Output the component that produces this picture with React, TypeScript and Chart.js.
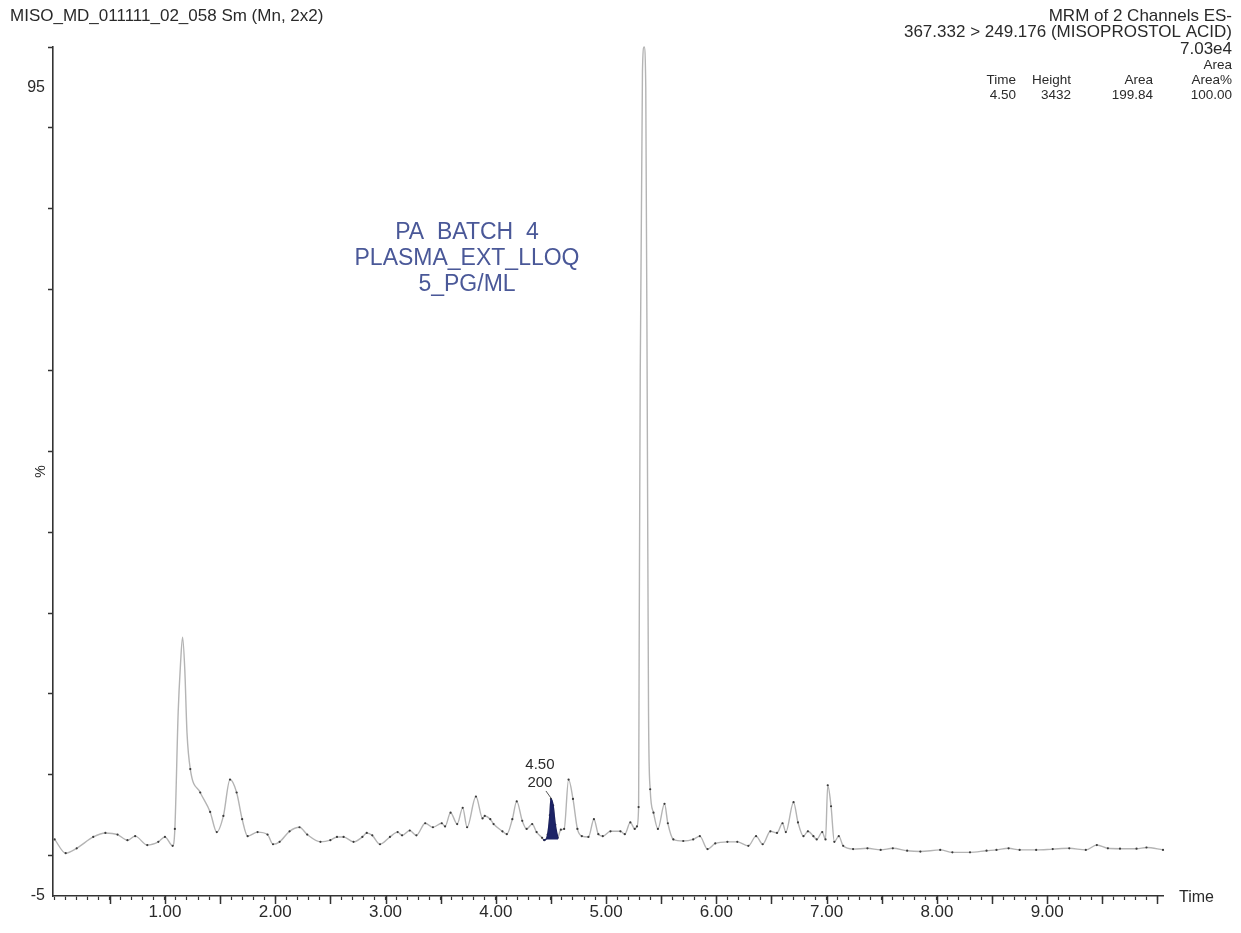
import React, { useEffect, useRef } from 'react';
import { Chart, registerables } from 'chart.js';

Chart.register(...registerables);

// ---- Data ----
const TIMES = [
  0.00, 0.10, 0.20, 0.35, 0.46, 0.57, 0.66, 0.73, 0.84, 0.94,
  1.00, 1.07, 1.09, 1.12, 1.14, 1.16, 1.18, 1.20, 1.23, 1.32,
  1.41, 1.47, 1.53, 1.59, 1.65, 1.70, 1.75, 1.84, 1.93, 1.98,
  2.04, 2.13, 2.22, 2.29, 2.41, 2.50, 2.56, 2.62, 2.71, 2.79,
  2.83, 2.88, 2.95, 3.04, 3.11, 3.15, 3.22, 3.28, 3.36, 3.43,
  3.51, 3.54, 3.59, 3.65, 3.70, 3.74, 3.82, 3.88, 3.90, 3.95,
  3.98, 4.06, 4.10, 4.15, 4.19, 4.24, 4.28, 4.33, 4.37, 4.42,
  4.44, 4.47, 4.49, 4.50, 4.52, 4.54, 4.56,
  4.59, 4.62, 4.66, 4.70, 4.74,
  4.78, 4.84, 4.89, 4.93, 4.97, 5.04, 5.13, 5.17, 5.22, 5.26,
  5.28, 5.295, 5.30, 5.31, 5.33, 5.345, 5.36, 5.375, 5.385, 5.40,
  5.43, 5.47, 5.53, 5.56, 5.61, 5.70, 5.79, 5.85, 5.92, 5.99,
  6.10, 6.19, 6.29, 6.36, 6.42, 6.49, 6.55, 6.60, 6.63, 6.70,
  6.74, 6.79, 6.83, 6.88, 6.91, 6.96, 6.99, 7.01, 7.04, 7.07,
  7.11, 7.15, 7.24, 7.37, 7.49, 7.60, 7.73, 7.85, 8.03, 8.14,
  8.30, 8.45, 8.54, 8.65, 8.75, 8.90, 9.05, 9.20, 9.35, 9.45,
  9.55, 9.66, 9.81, 9.90, 10.05,
];
const INTENSITY = [
  2.0, 0.3, 0.9, 2.3, 2.8, 2.6, 1.9, 2.4, 1.3, 1.7,
  2.3, 1.2, 3.3, 17.7, 23.4, 27.0, 23.0, 15.2, 10.7, 7.8,
  5.4, 2.9, 4.9, 9.4, 7.8, 4.5, 2.4, 2.9, 2.6, 1.4,
  1.7, 3.0, 3.5, 2.6, 1.7, 1.9, 2.3, 2.3, 1.7, 2.3,
  2.8, 2.5, 1.4, 2.3, 2.9, 2.5, 3.1, 2.5, 4.0, 3.5,
  4.0, 3.6, 5.3, 3.9, 5.9, 3.5, 7.3, 4.6, 4.9, 4.5,
  3.9, 3.0, 2.65, 4.5, 6.7, 4.3, 3.3, 3.9, 2.9, 2.2,
  1.9, 2.6, 5.0, 7.0, 6.2, 3.8, 2.2,
  3.2, 3.3, 9.4, 7.0, 3.3,
  2.4, 2.3, 4.5, 2.65, 2.4, 3.0, 3.0, 2.65, 4.1, 3.3,
  3.6, 6.0, 25.0, 60.0, 97.0, 100.0, 95.0, 50.0, 17.7, 8.2,
  5.3, 3.3, 6.4, 4.0, 2.0, 1.8, 2.0, 2.4, 0.8, 1.5,
  1.7, 1.7, 1.2, 2.4, 1.4, 3.0, 2.8, 4.0, 2.9, 6.6,
  4.1, 2.4, 3.0, 2.4, 2.0, 2.9, 2.0, 8.7, 6.1, 1.7,
  2.4, 1.2, 0.8, 0.9, 0.7, 0.9, 0.6, 0.5, 0.7, 0.4,
  0.4, 0.6, 0.7, 0.9, 0.7, 0.7, 0.8, 0.9, 0.7, 1.3,
  0.9, 0.85, 0.85, 1.0, 0.7,
];
const PEAK_TIMES = [4.43, 4.44, 4.47, 4.49, 4.50, 4.52, 4.54, 4.565];
const PEAK_VALUES = [2.0, 1.9, 2.6, 5.0, 7.0, 6.2, 3.8, 2.1];
const PEAK_BASE = 2.0;
const PEAK_LABEL_TIME = '4.50';
const PEAK_LABEL_AREA = '200';

// ---- Axes ----
const X_MIN = -0.015;
const X_MAX = 10.05;
const X_MINOR_STEP = 0.1;
const X_MAJOR_TICKS = [0.5, 1, 1.5, 2, 2.5, 3, 3.5, 4, 4.5, 5, 5.5, 6, 6.5, 7, 7.5, 8, 8.5, 9, 9.5, 10];
const X_LABELED = [1, 2, 3, 4, 5, 6, 7, 8, 9];
const X_LABELS = ['1.00', '2.00', '3.00', '4.00', '5.00', '6.00', '7.00', '8.00', '9.00'];
const Y_MIN = -5;
const Y_MAX = 100;
const Y_TICK_MARKS = [0, 10, 20, 30, 40, 50, 60, 70, 80, 90, 100];
const Y_LABELED = [95, -5];
const Y_LABELS = ['95', '-5'];

// ---- Texts ----
const TITLE_LEFT = 'MISO_MD_011111_02_058 Sm (Mn, 2x2)';
const HEADER_RIGHT = ['MRM of 2 Channels ES-', '367.332 > 249.176 (MISOPROSTOL ACID)', '7.03e4'];
const TABLE_TOP = 'Area';
const TABLE_HEAD = ['Time', 'Height', 'Area', 'Area%'];
const TABLE_ROW = ['4.50', '3432', '199.84', '100.00'];
const SAMPLE_TEXT = ['PA  BATCH  4', 'PLASMA_EXT_LLOQ', '5_PG/ML'];
const Y_TITLE = '%';
const X_TITLE = 'Time';

const FONT = '"Liberation Sans", Arial, Helvetica, sans-serif';
const TEXT_COLOR = '#2a2a2a';
const AXIS_COLOR = '#333333';

export default function App() {
  const ref = useRef<HTMLCanvasElement | null>(null);

  useEffect(() => {
    document.body.style.margin = '0';
    document.body.style.overflow = 'hidden';
    const canvas = ref.current;
    if (!canvas) return;

    const overlay = {
      id: 'overlay',
      afterDraw(chart: any) {
        const { ctx, scales } = chart;
        const x = scales.x;
        const y = scales.y;
        const area = chart.chartArea;
        ctx.save();
        // long x ticks at every 0.5
        ctx.strokeStyle = AXIS_COLOR;
        ctx.lineWidth = 1.5;
        for (const v of X_MAJOR_TICKS) {
          const px = Math.round(x.getPixelForValue(v)) + 0.5;
          ctx.beginPath();
          ctx.moveTo(px, area.bottom);
          ctx.lineTo(px, area.bottom + 8);
          ctx.stroke();
        }

        ctx.fillStyle = TEXT_COLOR;
        ctx.textBaseline = 'middle';
        // left title
        ctx.font = `17px ${FONT}`;
        ctx.textAlign = 'left';
        ctx.fillText(TITLE_LEFT, 10, 16);
        // right header
        ctx.textAlign = 'right';
        const rx = 1232;
        HEADER_RIGHT.forEach((t, i) => ctx.fillText(t, rx, 16 + i * 16.5));
        ctx.font = `13.5px ${FONT}`;
        ctx.fillText(TABLE_TOP, rx, 65);
        const colRight = [1016, 1071, 1153, 1232];
        TABLE_HEAD.forEach((t, i) => ctx.fillText(t, colRight[i], 80));
        TABLE_ROW.forEach((t, i) => ctx.fillText(t, colRight[i], 95));

        // sample text in blue
        ctx.font = `23px ${FONT}`;
        ctx.fillStyle = '#4a5898';
        ctx.textAlign = 'center';
        SAMPLE_TEXT.forEach((t, i) => ctx.fillText(t, 467, 233 + i * 26));

        // axis titles
        ctx.fillStyle = TEXT_COLOR;
        ctx.font = `16px ${FONT}`;
        ctx.textAlign = 'left';
        ctx.fillText(X_TITLE, area.right + 16, area.bottom + 2);
        ctx.save();
        ctx.translate(41, (area.top + area.bottom) / 2);
        ctx.rotate(-Math.PI / 2);
        ctx.textAlign = 'center';
        ctx.font = `14px ${FONT}`;
        ctx.fillText(Y_TITLE, 0, 0);
        ctx.restore();

        // peak annotation
        const pi = PEAK_VALUES.indexOf(Math.max(...PEAK_VALUES));
        const ppx = x.getPixelForValue(PEAK_TIMES[pi]);
        const ppy = y.getPixelForValue(PEAK_VALUES[pi]);
        ctx.font = `15px ${FONT}`;
        ctx.textAlign = 'center';
        ctx.fillStyle = TEXT_COLOR;
        ctx.fillText(PEAK_LABEL_TIME, ppx - 11, ppy - 34);
        ctx.fillText(PEAK_LABEL_AREA, ppx - 11, ppy - 16);
        ctx.strokeStyle = '#555';
        ctx.lineWidth = 1;
        ctx.beginPath();
        ctx.moveTo(ppx - 5, ppy - 8);
        ctx.lineTo(ppx, ppy - 1);
        ctx.stroke();
        ctx.restore();
      },
    };

    const chart = new Chart(canvas, {
      type: 'line',
      data: {
        datasets: [
          {
            label: 'peak',
            data: PEAK_TIMES.map((t, i) => ({ x: t, y: PEAK_VALUES[i] })),
            borderColor: '#1a2060',
            backgroundColor: '#1c2366',
            borderWidth: 1.2,
            pointRadius: 0,
            fill: { value: PEAK_BASE },
            cubicInterpolationMode: 'monotone',
            order: 0,
          },
          {
            label: 'trace',
            data: TIMES.map((t, i) => ({ x: t, y: INTENSITY[i] })),
            borderColor: '#b4b4b4',
            borderWidth: 1.4,
            pointRadius: (c: any) => (c.raw && c.raw.y < 12 ? 1.1 : 0),
            pointBackgroundColor: '#3a3a3a',
            pointBorderWidth: 0,
            fill: false,
            cubicInterpolationMode: 'monotone',
            clip: false,
            order: 1,
          },
        ],
      },
      options: {
        responsive: false,
        animation: false,
        devicePixelRatio: 1,
        layout: { padding: { top: 47, right: 78, left: 0, bottom: 0 } },
        plugins: {
          legend: { display: false },
          tooltip: { enabled: false },
          title: { display: false },
        },
        scales: {
          x: {
            type: 'linear',
            min: X_MIN,
            max: X_MAX,
            afterBuildTicks: (s: any) => {
              const ticks: any[] = [];
              const n = Math.round(10 / X_MINOR_STEP);
              for (let i = 0; i <= n; i++) ticks.push({ value: +(i * X_MINOR_STEP).toFixed(2) });
              s.ticks = ticks;
            },
            afterFit: (s: any) => {
              s.height = 37;
            },
            ticks: {
              autoSkip: false,
              maxRotation: 0,
              minRotation: 0,
              padding: 2,
              color: TEXT_COLOR,
              font: { family: FONT, size: 17 },
              callback: (v: any) => {
                const idx = X_LABELED.findIndex((l) => Math.abs(l - Number(v)) < 1e-6);
                return idx >= 0 ? X_LABELS[idx] : '';
              },
            },
            grid: {
              drawOnChartArea: false,
              drawTicks: true,
              tickLength: 4,
              tickColor: AXIS_COLOR,
              tickWidth: 1.2,
            },
            border: { display: true, color: AXIS_COLOR, width: 1.6 },
          },
          y: {
            type: 'linear',
            min: Y_MIN,
            max: Y_MAX,
            afterBuildTicks: (s: any) => {
              const vals = [...Y_TICK_MARKS, ...Y_LABELED].sort((a, b) => a - b);
              s.ticks = vals.map((v) => ({ value: v }));
            },
            afterFit: (s: any) => {
              s.width = 53;
            },
            ticks: {
              autoSkip: false,
              padding: 3,
              color: TEXT_COLOR,
              font: { family: FONT, size: 16 },
              callback: (v: any) => {
                const idx = Y_LABELED.indexOf(Number(v));
                return idx >= 0 ? Y_LABELS[idx] : '';
              },
            },
            grid: {
              drawOnChartArea: false,
              drawTicks: true,
              tickLength: 5,
              tickWidth: 1.5,
              tickColor: (c: any) =>
                c.tick && Y_LABELED.includes(c.tick.value) ? 'rgba(0,0,0,0)' : AXIS_COLOR,
            },
            border: { display: true, color: AXIS_COLOR, width: 1.6 },
          },
        },
      },
      plugins: [overlay],
    } as any);

    return () => {
      chart.destroy();
    };
  }, []);

  return (
    <div style={{ width: 1241, height: 933, position: 'relative', background: '#fff' }}>
      <canvas ref={ref} width={1241} height={933} style={{ display: 'block' }} />
    </div>
  );
}
